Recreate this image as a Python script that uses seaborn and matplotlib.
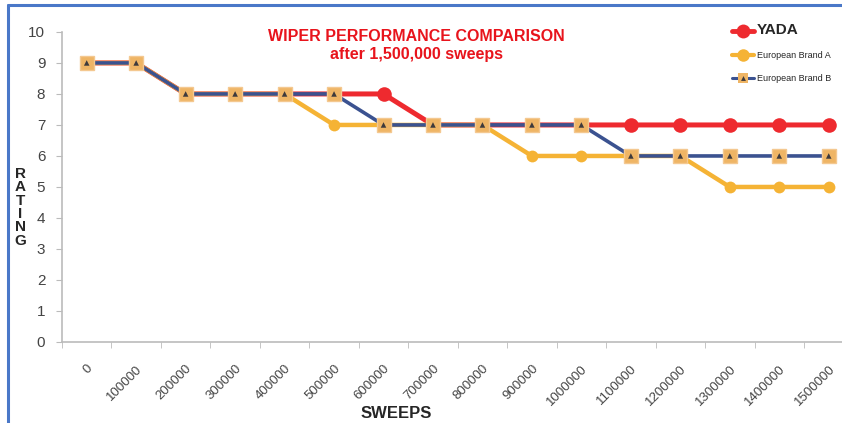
import pandas as pd
import matplotlib.pyplot as plt
import seaborn as sns
from matplotlib.lines import Line2D

# chart data
sweeps = [0, 100000, 200000, 300000, 400000, 500000, 600000, 700000,
          800000, 900000, 1000000, 1100000, 1200000, 1300000, 1400000, 1500000]
yada = [9, 9, 8, 8, 8, 8, 8, 7, 7, 7, 7, 7, 7, 7, 7, 7]
brand_a = [9, 9, 8, 8, 8, 7, 7, 7, 7, 6, 6, 6, 6, 5, 5, 5]
brand_b = [9, 9, 8, 8, 8, 8, 7, 7, 7, 7, 7, 6, 6, 6, 6, 6]

df = pd.DataFrame({'idx': range(len(sweeps)), 'YADA': yada,
                   'European Brand A': brand_a, 'European Brand B': brand_b})

sns.set_style('white')
plt.rcParams['font.family'] = ['Liberation Sans', 'DejaVu Sans']

fig = plt.figure(figsize=(8.42, 4.23), dpi=100)
ax = fig.add_axes([0.0736, 0.1915, 0.94, 0.733])

red = '#ee2a2f'
orange = '#f5b335'
navy = '#3b5290'
tan = '#efb565'
dark = '#3e3a3c'

sns.lineplot(data=df, x='idx', y='YADA', ax=ax, color=red, lw=3.6,
             marker='o', markersize=10.5, markeredgewidth=0, zorder=3)
sns.lineplot(data=df, x='idx', y='European Brand A', ax=ax, color=orange, lw=3.2,
             marker='o', markersize=8.5, markeredgewidth=0, zorder=4)
sns.lineplot(data=df, x='idx', y='European Brand B', ax=ax, color=navy, lw=2.6,
             marker='s', markersize=9.5, markerfacecolor=tan,
             markeredgecolor='#f4c890', markeredgewidth=1, zorder=5)
# small dark triangles inside the Brand B markers
sns.scatterplot(data=df, x='idx', y='European Brand B', ax=ax, marker='^',
                s=16, color=dark, edgecolor='none', zorder=6)

ax.set_xlim(-0.5, len(sweeps) - 0.5)
ax.set_ylim(0, 10)
ax.set_yticks(range(0, 11))
ax.set_xticks(range(len(sweeps)))
ax.set_xticklabels([str(s) for s in sweeps], rotation=45, ha='right',
                   rotation_mode='anchor', fontsize=9.5, color='#444444')
ax.set_xticks([i + 0.5 for i in range(-1, len(sweeps))], minor=True)
ax.tick_params(axis='x', which='major', length=0, pad=15)
ax.tick_params(axis='x', which='minor', length=4, color='#bbbbbb', direction='out')
ax.tick_params(axis='y', length=4, color='#bbbbbb', direction='out',
               labelsize=11, labelcolor='#444444', pad=8)
ax.tick_params(bottom=True, left=True, which='both')
for s in ['top', 'right']:
    ax.spines[s].set_visible(False)
for s in ['left', 'bottom']:
    ax.spines[s].set_color('#bbbbbb')
    ax.spines[s].set_linewidth(1.2)
ax.set_xlabel('')
ax.set_ylabel('')

fig.text(0.495, 0.913, 'WIPER PERFORMANCE COMPARISON', color='#e8141c',
         fontsize=11.5, fontweight='bold', ha='center', va='center')
fig.text(0.495, 0.872, 'after 1,500,000 sweeps', color='#e8141c',
         fontsize=11.5, fontweight='bold', ha='center', va='center')
fig.text(0.024, 0.51, 'R\nA\nT\nI\nN\nG', fontsize=11, fontweight='bold',
         ha='center', va='center', linespacing=0.95)
fig.text(0.47, 0.022, 'SWEEPS', fontsize=12, fontweight='bold',
         ha='center', va='center')

# legend
handles = [
    Line2D([], [], color=red, lw=3.5, marker='o', markersize=10, markeredgewidth=0),
    Line2D([], [], color=orange, lw=3, marker='o', markersize=9, markeredgewidth=0),
    (Line2D([], [], color=navy, lw=2.2, marker='s', markersize=7,
            markerfacecolor=tan, markeredgewidth=0),
     Line2D([], [], ls='none', marker='^', markersize=3.5, color=dark,
            markeredgewidth=0)),
]
leg = fig.legend(handles, ['YADA', 'European Brand A', 'European Brand B'],
                 loc='upper left', bbox_to_anchor=(0.86, 0.965), frameon=False,
                 handlelength=2.4, handletextpad=0.3, labelspacing=1.55, fontsize=6.5)
leg.get_texts()[0].set_fontsize(11)
leg.get_texts()[0].set_fontweight('bold')

# blue frame on left and top
fig.add_artist(Line2D([0.0095, 0.0095], [0.0, 0.988], color='#4a78c8', lw=2.2,
                      transform=fig.transFigure))
fig.add_artist(Line2D([0.0095, 1.0], [0.988, 0.988], color='#4a78c8', lw=2.2,
                      transform=fig.transFigure))

fig.savefig('out.png', dpi=100)
